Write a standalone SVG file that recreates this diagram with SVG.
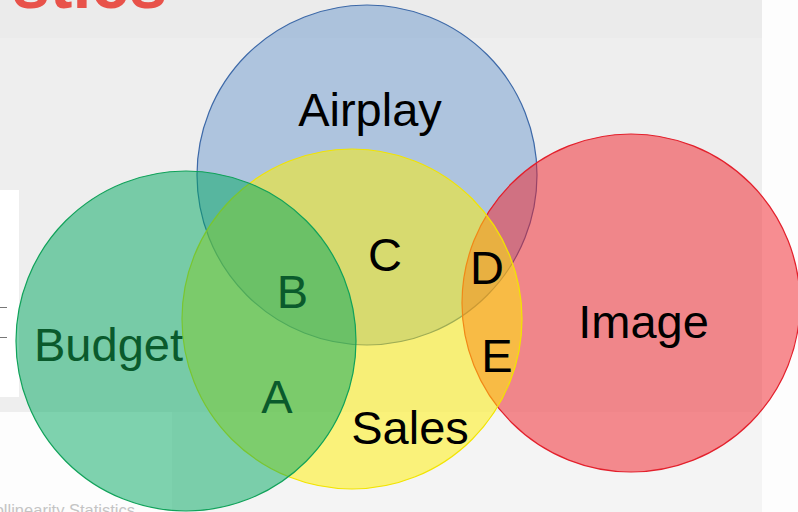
<svg xmlns="http://www.w3.org/2000/svg" width="798" height="512" viewBox="0 0 798 512">
  <style>
    .set { fill-opacity: 0.5; stroke-width: 1.2; }
    .label { font-family: "Liberation Sans", Arial, sans-serif; font-size: 47px; text-anchor: middle; fill: #000; }
    .dark { fill: #0a5a2c; }
  </style>

  <!-- slide backdrop -->
  <g id="backdrop">
    <rect x="0" y="0" width="798" height="512" fill="#fdfdfd"/>
    <rect x="0" y="0" width="762" height="412" fill="#eeeeee"/>
    <rect x="0" y="0" width="762" height="38" fill="#ebebeb"/>
    <rect x="172" y="412" width="590" height="100" fill="#f4f4f4"/>
    <rect x="0" y="190" width="19" height="207" fill="#ffffff"/>
    <line x1="0" y1="307.5" x2="7" y2="307.5" stroke="#777" stroke-width="1"/>
    <line x1="0" y1="337.5" x2="7" y2="337.5" stroke="#777" stroke-width="1"/>
    <text x="167" y="8" font-family="'Liberation Sans', Arial, sans-serif" font-weight="700" font-size="68" fill="#e8524a" text-anchor="end">stics</text>
    <text x="135" y="516" font-family="'Liberation Sans', Arial, sans-serif" font-size="16.5" fill="#c4c4c4" text-anchor="end">Collinearity Statistics</text>
  </g>

  <!-- sets, drawn back to front -->
  <g id="airplay">
    <circle class="set" cx="367" cy="175" r="170" fill="#6e9ace" stroke="#3d69a8"/>
    <text class="label" x="370" y="126">Airplay</text>
  </g>
  <g id="image">
    <circle class="set" cx="631" cy="303" r="169" fill="#f21e26" stroke="#e3202c"/>
    <text class="label" x="643.5" y="338">Image</text>
  </g>
  <g id="sales">
    <circle class="set" cx="352" cy="319" r="170" fill="#fff000" stroke="#f2e400"/>
    <text class="label" x="410" y="444">Sales</text>
  </g>
  <g id="budget">
    <circle class="set" cx="186" cy="341" r="170" fill="#00a860" stroke="#10a25a"/>
    <text class="label dark" x="108.5" y="361">Budget</text>
  </g>

  <!-- overlap region labels -->
  <g id="regions">
    <text class="label dark" x="277" y="413">A</text>
    <text class="label dark" x="292.5" y="308">B</text>
    <text class="label" x="385" y="271">C</text>
    <text class="label" x="487" y="284">D</text>
    <text class="label" x="497" y="372">E</text>
  </g>
</svg>
